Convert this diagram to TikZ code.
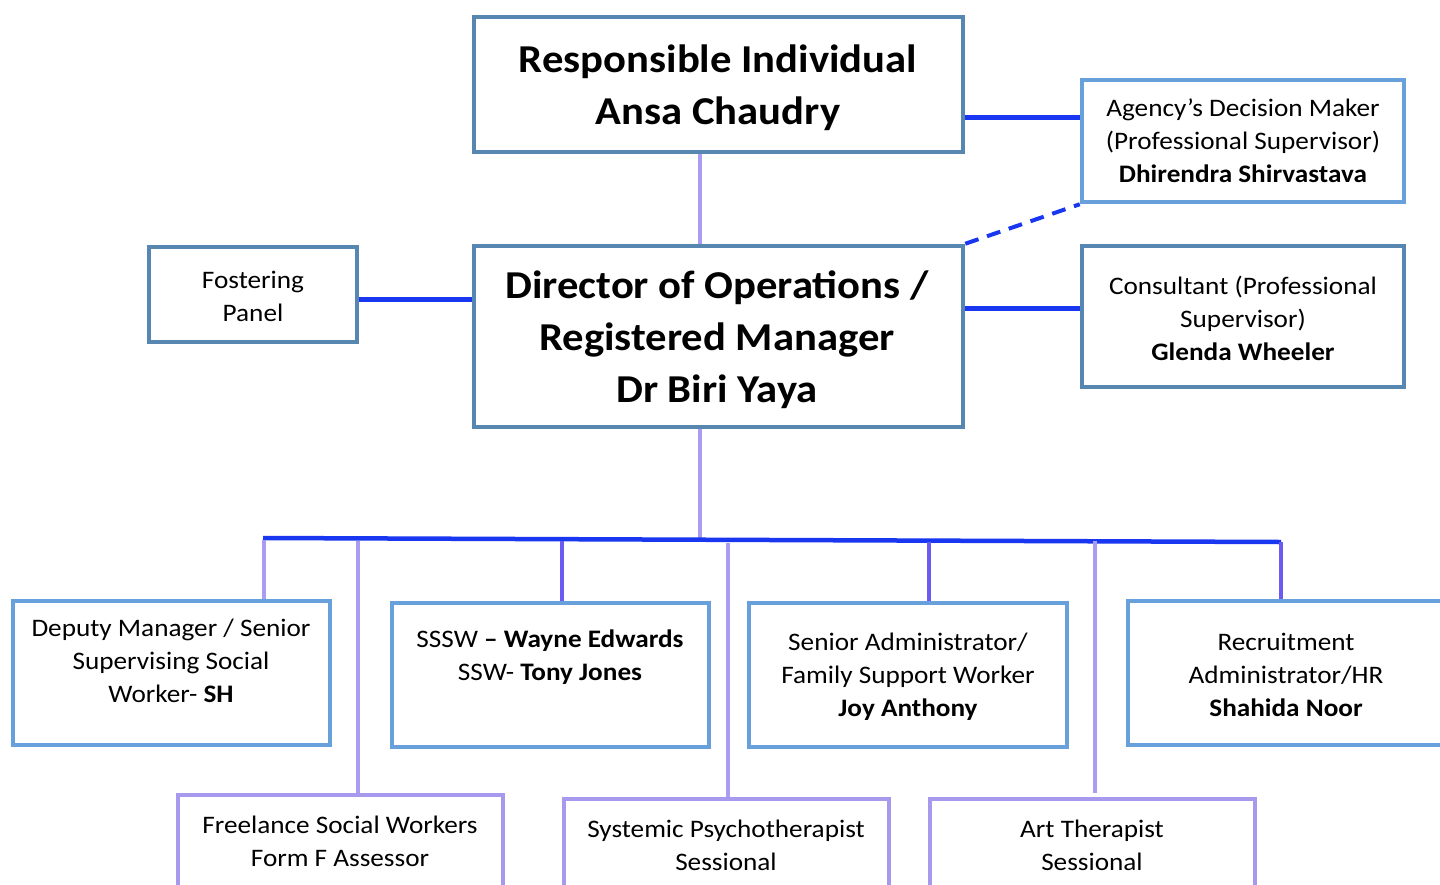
\documentclass[tikz,border=0pt]{standalone}
\usepackage{fontspec}
\setmainfont[FakeStretch=1.08]{Carlito}
\usetikzlibrary{calc}
\definecolor{boxdark}{RGB}{87,135,176}
\definecolor{boxlight}{RGB}{103,160,218}
\definecolor{boxpurple}{RGB}{167,154,238}
\definecolor{conblue}{RGB}{25,55,240}
\definecolor{droplav}{RGB}{169,156,242}
\definecolor{dropmed}{RGB}{106,92,242}
\tikzset{
  box/.style={draw, line width=4.5pt, fill=white, inner sep=0pt},
  darkbox/.style={box, draw=boxdark},
  lightbox/.style={box, draw=boxlight},
  purplebox/.style={box, draw=boxpurple},
  bigtxt/.style={align=center, font=\fontsize{39.5}{52}\selectfont\bfseries, inner sep=0pt},
  txt/.style={align=center, font=\fontsize{25.2}{33}\selectfont, inner sep=0pt},
  bluecon/.style={draw=conblue, line width=5pt},
  buscon/.style={draw=conblue, line width=4.5pt},
  lavcon/.style={draw=droplav, line width=4.5pt},
  medcon/.style={draw=dropmed, line width=3.5pt},
}
\begin{document}
\begin{tikzpicture}[x=1pt, y=-1pt]
\useasboundingbox (0,0) rectangle (1440,884);
\clip (0,0) rectangle (1440,884);
\fill[white] (0,0) rectangle (1440,884);

% boxes
\node[darkbox, minimum width=489pt, minimum height=135pt] (ri) at (718.5,84.5) {};
\node[lightbox, minimum width=322pt, minimum height=122pt] (ag) at (1243,141) {};
\node[darkbox, minimum width=489pt, minimum height=181pt] (do) at (718.5,336.5) {};
\node[darkbox, minimum width=208pt, minimum height=95pt] (fos) at (253,294.5) {};
\node[darkbox, minimum width=322pt, minimum height=141pt] (con) at (1243,316.5) {};
\node[lightbox, minimum width=317pt, minimum height=144pt] (dep) at (171.5,673) {};
\node[lightbox, minimum width=317pt, minimum height=144pt] (sssw) at (550.5,675) {};
\node[lightbox, minimum width=318pt, minimum height=144pt] (adm) at (908,675) {};
\node[lightbox, minimum width=324pt, minimum height=144pt] (rec) at (1290,673) {};
\node[purplebox, minimum width=325pt, minimum height=105pt] (fre) at (340.5,847.5) {};
\node[purplebox, minimum width=325pt, minimum height=105pt] (sys) at (726.5,851.5) {};
\node[purplebox, minimum width=325pt, minimum height=105pt] (art) at (1092.5,851.5) {};

% texts
\node[bigtxt] (rit) at (718,88) {Responsible Individual\\Ansa Chaudry};
\node[bigtxt] (dot) at (717,340) {Director of Operations /\\Registered Manager\\Dr Biri Yaya};
\node[txt] (agt) at (1243,141) {Agency’s Decision Maker\\(Professional Supervisor)\\\textbf{Dhirendra Shirvastava}};
\node[txt] (fost) at (253,296.5) {Fostering\\Panel};
\node[txt] (cont) at (1243,318) {Consultant (Professional\\Supervisor)\\\textbf{Glenda Wheeler}};
\node[txt] (dept) at (171,661) {Deputy Manager / Senior\\Supervising Social\\Worker- \textbf{SH}};
\node[txt] (ssswt) at (550,657.5) {SSSW \textbf{– Wayne Edwards}\\SSW- \textbf{Tony Jones}};
\node[txt] (admt) at (908,677) {Senior Administrator/\\Family Support Worker\\\textbf{Joy Anthony}};
\node[txt] (rect) at (1286,675) {Recruitment\\Administrator/HR\\\textbf{Shahida Noor}};
\node[txt] (fret) at (340,841.5) {Freelance Social Workers\\Form F Assessor};
\node[txt] (syst) at (726,845.5) {Systemic Psychotherapist\\Sessional};
\node[txt] (artt) at (1092,845.5) {Art Therapist\\Sessional};

% coordinates
\coordinate (spine) at (700,0);
\coordinate (busL) at (263,538);
\coordinate (busR) at (1281,542);
\coordinate (busM) at (700,539.7);

% top connectors
\draw[lavcon] (ri.south -| spine) -- (do.north -| spine);
\draw[bluecon] ([yshift=-32.5pt]ri.east) -- ([yshift=-32.5pt]ri.east -| ag.west);
\draw[bluecon, line width=4pt, dashed, dash pattern=on 14pt off 9pt] (do.north east) -- (ag.south west);
\draw[bluecon] ([yshift=-4.5pt]fos.east) -- ([yshift=-4.5pt]fos.east -| do.west);
\draw[bluecon] ([yshift=28.5pt]do.east) -- ([yshift=28.5pt]do.east -| con.west);
\draw[lavcon] (do.south -| spine) -- (busM);

% bus
\draw[buscon] (busL) -- (busR);

% drops
\coordinate (d1) at (264,540);
\coordinate (d2) at (358,540.5);
\coordinate (d3) at (562,541);
\coordinate (d4) at (728,543);
\coordinate (d5) at (929,541.5);
\coordinate (d6) at (1095,540.5);
\coordinate (d7) at (1281,542);
\draw[lavcon] (d1) -- (d1 |- dep.north);
\draw[lavcon] (d2) -- (d2 |- fre.north);
\draw[medcon] (d3) -- (d3 |- sssw.north);
\draw[lavcon] (d4) -- (d4 |- sys.north);
\draw[medcon] (d5) -- (d5 |- adm.north);
\draw[lavcon] (d6) -- ([yshift=4pt]d6 |- art.north);
\draw[medcon] (d7) -- (d7 |- rec.north);
\end{tikzpicture}
\end{document}
